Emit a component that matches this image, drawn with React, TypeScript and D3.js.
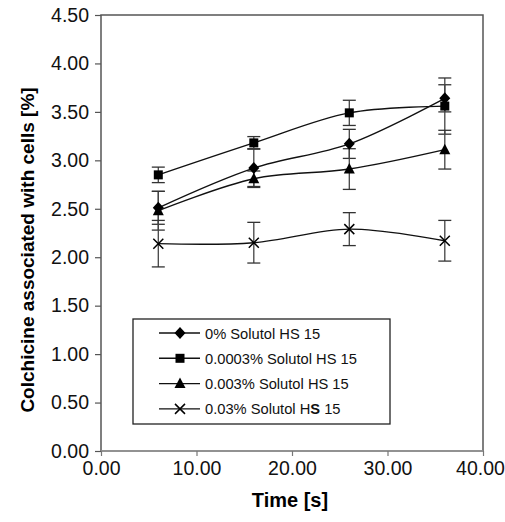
import React, { useEffect, useRef } from 'react';
import * as d3 from 'd3';

const times = [6, 16, 26, 36];
const seriesNames = [
  '0% Solutol HS 15',
  '0.0003% Solutol HS 15',
  '0.003% Solutol HS 15',
  '0.03% Solutol HS 15'
];
const values0 = [2.51, 2.92, 3.17, 3.64];
const values1 = [2.85, 3.18, 3.49, 3.56];
const values2 = [2.48, 2.81, 2.91, 3.11];
const values3 = [2.14, 2.15, 2.29, 2.17];
const errors0 = [0.17, 0.2, 0.15, 0.14];
const errors1 = [0.08, 0.065, 0.13, 0.29];
const errors2 = [0.2, 0.08, 0.21, 0.2];
const errors3 = [0.24, 0.21, 0.17, 0.21];
const markers = ['diamond', 'square', 'triangle', 'cross'];
const xTicks = [0, 10, 20, 30, 40];
const yTicks = [0, 0.5, 1, 1.5, 2, 2.5, 3, 3.5, 4, 4.5];

const W = 505;
const H = 522;
const FONT = 'Liberation Sans, Arial, Helvetica, sans-serif';

const App = () => {
  const svgRef = useRef<SVGSVGElement>(null);

  useEffect(() => {
    const svg = d3.select(svgRef.current);
    svg.selectAll('*').remove();

    const left = 101, right = 483, top = 15, bottom = 451;
    const x = d3.scaleLinear().domain([0, 40]).range([left, right]);
    const y = d3.scaleLinear().domain([0, 4.5]).range([bottom, top]);

    const allValues = [values0, values1, values2, values3];
    const allErrors = [errors0, errors1, errors2, errors3];

    // marco del area
    svg.append('rect')
      .attr('x', left).attr('y', top)
      .attr('width', right - left).attr('height', bottom - top)
      .attr('fill', 'none').attr('stroke', '#555').attr('stroke-width', 1.5);
    svg.append('line')
      .attr('x1', left).attr('x2', right).attr('y1', bottom).attr('y2', bottom)
      .attr('stroke', '#999').attr('stroke-width', 1.5);

    // ejes
    svg.append('g')
      .attr('transform', `translate(${left},0)`)
      .call(d3.axisLeft(y).tickValues(yTicks).tickSize(6).tickPadding(6).tickFormat(d3.format('.2f')))
      .call(g => {
        g.select('.domain').remove();
        g.selectAll('.tick line').attr('stroke', '#555').attr('stroke-width', 1.2);
        g.selectAll('text').attr('font-family', FONT).attr('font-size', 19.5).attr('fill', '#111');
      });

    svg.append('g')
      .attr('transform', `translate(0,${bottom})`)
      .call(d3.axisBottom(x).tickValues(xTicks).tickSize(5).tickPadding(5).tickFormat(d3.format('.2f')))
      .call(g => {
        g.select('.domain').remove();
        g.selectAll('.tick line').attr('stroke', '#777').attr('stroke-width', 1.2);
        g.selectAll('text').attr('font-family', FONT).attr('font-size', 19.5).attr('fill', '#111')
          .attr('dx', (d: any) => (d === 40 ? -3 : 0));
      });

    svg.append('text')
      .attr('x', 290).attr('y', 507)
      .attr('text-anchor', 'middle')
      .attr('font-family', FONT).attr('font-size', 20).attr('font-weight', 'bold')
      .text('Time [s]');

    svg.append('text')
      .attr('transform', 'translate(34,250) rotate(-90)')
      .attr('text-anchor', 'middle')
      .attr('font-family', FONT).attr('font-size', 19).attr('font-weight', 'bold')
      .text('Colchicine associated with cells [%]');

    const drawMarker = (g: any, kind: string, cx: number, cy: number) => {
      if (kind === 'diamond') {
        g.append('path')
          .attr('d', `M${cx},${cy - 6}L${cx + 5.5},${cy}L${cx},${cy + 6}L${cx - 5.5},${cy}Z`)
          .attr('fill', '#000');
      } else if (kind === 'square') {
        g.append('rect')
          .attr('x', cx - 4.5).attr('y', cy - 4.5).attr('width', 9).attr('height', 9)
          .attr('fill', '#000');
      } else if (kind === 'triangle') {
        g.append('path')
          .attr('d', `M${cx},${cy - 6}L${cx + 5.5},${cy + 4.5}L${cx - 5.5},${cy + 4.5}Z`)
          .attr('fill', '#000');
      } else {
        g.append('path')
          .attr('d', `M${cx - 5},${cy - 5}L${cx + 5},${cy + 5}M${cx - 5},${cy + 5}L${cx + 5},${cy - 5}`)
          .attr('stroke', '#000').attr('stroke-width', 1.5).attr('fill', 'none');
      }
    };

    const line = d3.line<number>()
      .x((d, i) => x(times[i]))
      .y(d => y(d))
      .curve(d3.curveCatmullRom.alpha(0.5));

    const plot = svg.append('g');

    // barras de error
    allValues.forEach((vals, s) => {
      vals.forEach((v, i) => {
        const e = allErrors[s][i];
        const cx = x(times[i]);
        plot.append('line')
          .attr('x1', cx).attr('x2', cx).attr('y1', y(v - e)).attr('y2', y(v + e))
          .attr('stroke', '#444').attr('stroke-width', 1.3);
        [v - e, v + e].forEach(c => {
          plot.append('line')
            .attr('x1', cx - 6.5).attr('x2', cx + 6.5).attr('y1', y(c)).attr('y2', y(c))
            .attr('stroke', '#333').attr('stroke-width', 1.3);
        });
      });
    });

    // lineas y marcadores
    allValues.forEach((vals, s) => {
      plot.append('path')
        .datum(vals)
        .attr('d', line)
        .attr('fill', 'none').attr('stroke', '#111').attr('stroke-width', 1.4);
      vals.forEach((v, i) => drawMarker(plot, markers[s], x(times[i]), y(v)));
    });

    // leyenda
    const legend = svg.append('g');
    legend.append('rect')
      .attr('x', 133).attr('y', 319).attr('width', 257).attr('height', 105)
      .attr('fill', '#fff').attr('stroke', '#222').attr('stroke-width', 1.3);
    seriesNames.forEach((name, s) => {
      const ry = 333 + s * 25.3;
      legend.append('line')
        .attr('x1', 159).attr('x2', 200).attr('y1', ry).attr('y2', ry)
        .attr('stroke', '#111').attr('stroke-width', 1.4);
      drawMarker(legend, markers[s], 180, ry);
      const t = legend.append('text')
        .attr('x', 205).attr('y', ry + 5.5)
        .attr('font-family', FONT).attr('font-size', 14.7).attr('fill', '#111');
      if (s === 3) {
        t.append('tspan').text('0.03% Solutol H');
        t.append('tspan').attr('font-weight', 'bold').text('S');
        t.append('tspan').text(' 15');
      } else {
        t.text(name);
      }
    });
  }, []);

  return (
    <div style={{ position: 'absolute', left: 0, top: 0, width: W, height: H, background: '#fff' }}>
      <svg ref={svgRef} width={W} height={H} style={{ display: 'block' }} />
    </div>
  );
};

export default App;
